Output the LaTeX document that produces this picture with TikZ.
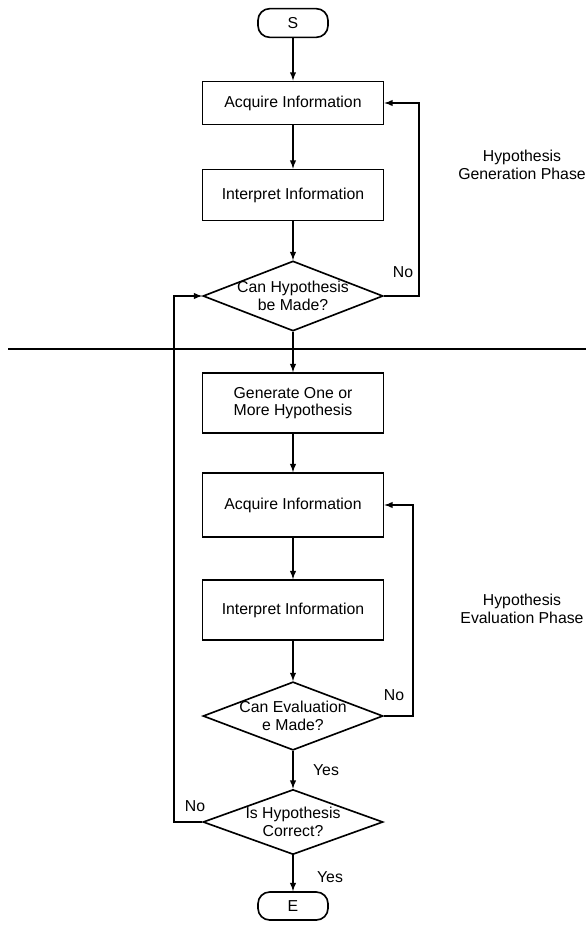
\documentclass[tikz,border=0pt]{standalone}
\usepackage{fontspec}
\setmainfont{Liberation Sans}
\usepackage{tikz}
\usetikzlibrary{arrows,shapes}

\begin{document}
\begin{tikzpicture}[x=0.03cm, y=-0.03cm, >=latex, line width=1.4pt,
  txt/.style={font=\fontsize{13.5}{15}\selectfont, align=center, inner sep=1pt},
  box/.style={txt, rectangle, draw, minimum width=5.43cm},
  term/.style={txt, rectangle, draw, rounded corners=0.35cm, minimum width=2.1cm, minimum height=0.86cm},
  decision/.style={diamond, draw, minimum width=5.4cm, minimum height=2cm, inner sep=0pt}]
\useasboundingbox (0,0) rectangle (586,926);
% generation phase
\node[term] (start) at (293,23) {S};
\node[box, minimum height=1.3cm] (acq1) at (293,103) {Acquire Information};
\node[box, minimum height=1.53cm] (int1) at (293,195) {Interpret Information};
\node[decision, minimum height=2.1cm, label={[txt]center:Can Hypothesis\\be Made?}] (dec1) at (293,296) {};
% evaluation phase
\node[box, minimum height=1.8cm] (gen) at (293,403) {Generate One or\\More Hypothesis};
\node[box, minimum height=1.92cm] (acq2) at (293,505) {Acquire Information};
\node[box, minimum height=1.8cm] (int2) at (293,610) {Interpret Information};
\node[decision, minimum height=2.05cm, label={[txt]center:Can Evaluation\\e Made?}] (dec2) at (293,716) {};
\node[decision, minimum height=1.95cm, label={[txt]center:Is Hypothesis\\Correct?}] (dec3) at (293,822) {};
\node[term, minimum height=0.84cm] (end) at (293,906) {E};
% labels
\node[txt] (genphase) at (522,165) {Hypothesis\\Generation Phase};
\node[txt] (evalphase) at (522,609) {Hypothesis\\Evaluation Phase};
\node[txt] (no1) at (403,272) {No};
\node[txt] (no2) at (394,695) {No};
\node[txt] (no3) at (195,806) {No};
\node[txt] (yes1) at (326,770) {Yes};
\node[txt] (yes2) at (330,877) {Yes};
\draw (8,349) -- (586,349);
\path[->]
(start) edge (acq1)
(acq1) edge (int1)
(int1) edge (dec1)
(dec1) edge (gen)
(gen) edge (acq2)
(acq2) edge (int2)
(int2) edge (dec2)
(dec2) edge (dec3)
(dec3) edge (end);
\draw[->] (dec1.east) -- ++(35,0) |- (acq1.east);
\draw[->] (dec2.east) -- ++(29,0) |- (acq2.east);
\draw[->] (dec3.west) -- ++(-28,0) |- (dec1.west);
\end{tikzpicture}
\end{document}
